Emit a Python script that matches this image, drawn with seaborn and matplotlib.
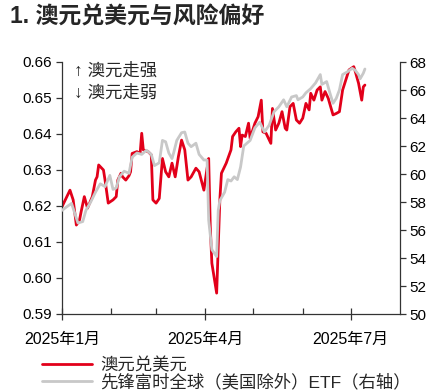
import matplotlib
matplotlib.use("Agg")
import matplotlib.pyplot as plt
import seaborn as sns
import pandas as pd
from matplotlib.lines import Line2D

sns.set_style("white")
plt.rcParams['font.family'] = ['Liberation Sans', 'Noto Sans CJK SC', 'DejaVu Sans']

# ---------------- data ----------------
aud_dates = ["2025-01-01", "2025-01-06", "2025-01-08", "2025-01-10", "2025-01-12", "2025-01-13",
             "2025-01-15", "2025-01-17", "2025-01-20", "2025-01-22", "2025-01-23", "2025-01-24",
             "2025-01-27", "2025-01-28", "2025-01-30", "2025-02-02", "2025-02-04", "2025-02-05",
             "2025-02-07", "2025-02-08", "2025-02-10", "2025-02-12", "2025-02-13", "2025-02-14",
             "2025-02-17", "2025-02-19", "2025-02-20", "2025-02-21", "2025-02-24", "2025-02-26",
             "2025-02-27", "2025-03-01", "2025-03-03", "2025-03-05", "2025-03-07", "2025-03-09",
             "2025-03-11", "2025-03-13", "2025-03-15", "2025-03-17", "2025-03-19", "2025-03-21",
             "2025-03-23", "2025-03-26", "2025-03-28", "2025-03-31", "2025-04-02", "2025-04-03",
             "2025-04-04", "2025-04-05", "2025-04-08", "2025-04-10", "2025-04-11", "2025-04-14",
             "2025-04-17", "2025-04-18", "2025-04-20", "2025-04-22", "2025-04-23", "2025-04-24",
             "2025-04-26", "2025-04-28", "2025-04-29", "2025-05-02", "2025-05-04", "2025-05-06",
             "2025-05-07", "2025-05-09", "2025-05-12", "2025-05-13", "2025-05-15", "2025-05-17",
             "2025-05-19", "2025-05-21", "2025-05-22", "2025-05-24", "2025-05-26", "2025-05-28",
             "2025-05-30", "2025-06-01", "2025-06-03", "2025-06-05", "2025-06-06", "2025-06-08",
             "2025-06-10", "2025-06-12", "2025-06-13", "2025-06-15", "2025-06-17", "2025-06-20",
             "2025-06-22", "2025-06-24", "2025-06-26", "2025-06-28", "2025-06-30", "2025-07-03",
             "2025-07-04", "2025-07-06", "2025-07-08", "2025-07-09", "2025-07-10"]
aud_values = [0.6198, 0.6244, 0.6217, 0.6147, 0.6161, 0.6184,
              0.6226, 0.6194, 0.6226, 0.6272, 0.6281, 0.6314,
              0.6300, 0.6272, 0.6208, 0.6217, 0.6226, 0.6272,
              0.6291, 0.6281, 0.6272, 0.6284, 0.6295, 0.6346,
              0.6351, 0.6346, 0.6402, 0.6356, 0.6351, 0.6342,
              0.6217, 0.6208, 0.6221, 0.6332, 0.6295, 0.6281,
              0.6319, 0.6281, 0.6337, 0.6383, 0.6356, 0.6272,
              0.6281, 0.6305, 0.6295, 0.6244, 0.6305, 0.6332,
              0.6143, 0.6041, 0.5958, 0.6217, 0.6291, 0.6319,
              0.6356, 0.6393, 0.6406, 0.6416, 0.6365, 0.6397,
              0.6393, 0.6430, 0.6388, 0.6430, 0.6448, 0.6494,
              0.6406, 0.6402, 0.6374, 0.6471, 0.6411, 0.6430,
              0.6462, 0.6416, 0.6411, 0.6476, 0.6485, 0.6439,
              0.6430, 0.6444, 0.6485, 0.6467, 0.6513, 0.6494,
              0.6522, 0.6531, 0.6494, 0.6518, 0.6499, 0.6453,
              0.6457, 0.6462, 0.6522, 0.6550, 0.6578, 0.6587,
              0.6573, 0.6541, 0.6494, 0.6531, 0.6536]

etf_dates = ["2025-01-01", "2025-01-04", "2025-01-07", "2025-01-09", "2025-01-11", "2025-01-14",
             "2025-01-16", "2025-01-19", "2025-01-22", "2025-01-25", "2025-01-28", "2025-01-31",
             "2025-02-02", "2025-02-04", "2025-02-06", "2025-02-09", "2025-02-12", "2025-02-14",
             "2025-02-17", "2025-02-20", "2025-02-23", "2025-02-26", "2025-02-28", "2025-03-03",
             "2025-03-05", "2025-03-07", "2025-03-09", "2025-03-11", "2025-03-12", "2025-03-14",
             "2025-03-17", "2025-03-19", "2025-03-21", "2025-03-23", "2025-03-26", "2025-03-28",
             "2025-03-31", "2025-04-02", "2025-04-03", "2025-04-05", "2025-04-08", "2025-04-09",
             "2025-04-10", "2025-04-13", "2025-04-15", "2025-04-17", "2025-04-19", "2025-04-21",
             "2025-04-23", "2025-04-25", "2025-04-26", "2025-04-29", "2025-05-02", "2025-05-05",
             "2025-05-08", "2025-05-11", "2025-05-14", "2025-05-17", "2025-05-20", "2025-05-22",
             "2025-05-25", "2025-05-28", "2025-05-29", "2025-06-01", "2025-06-03", "2025-06-06",
             "2025-06-09", "2025-06-12", "2025-06-13", "2025-06-16", "2025-06-18", "2025-06-20",
             "2025-06-22", "2025-06-24", "2025-06-26", "2025-06-29", "2025-07-02", "2025-07-04",
             "2025-07-06", "2025-07-07", "2025-07-09", "2025-07-10"]
etf_values = [57.4, 57.66, 57.9, 57.2, 56.5, 56.6,
              57.4, 58.0, 58.7, 59.3, 59.1, 59.9,
              58.9, 59.0, 59.8, 60.2, 60.05, 61.2,
              61.5, 61.4, 61.7, 61.4, 60.6, 60.8,
              62.4, 62.3, 61.5, 61.1, 61.5, 62.4,
              62.95, 63.0, 62.2, 61.95, 62.2, 61.4,
              61.0, 61.0, 56.7, 54.6, 54.1, 57.4,
              58.1, 58.7, 59.6, 59.5, 59.8, 59.6,
              60.5, 62.0, 62.1, 62.4, 63.3, 63.7,
              63.0, 63.5, 64.45, 64.8, 65.3, 64.8,
              65.5, 65.6, 65.3, 65.5, 65.8, 66.1,
              66.5, 67.1, 66.4, 66.6, 65.8, 65.05,
              65.4, 66.0, 67.1, 67.3, 67.55, 67.4,
              67.1, 66.8, 67.2, 67.5]

title = "1. 澳元兑美元与风险偏好"
series_names = ["澳元兑美元", "先锋富时全球（美国除外）ETF（右轴）"]
note_up = "↑ 澳元走强"
note_down = "↓ 澳元走弱"
left_ticks = [0.59, 0.60, 0.61, 0.62, 0.63, 0.64, 0.65, 0.66]
right_ticks = [50, 52, 54, 56, 58, 60, 62, 64, 66, 68]
major_months = ["2025-01-01", "2025-04-01", "2025-07-01"]
major_labels = ["2025年1月", "2025年4月", "2025年7月"]
minor_months = ["2025-02-01", "2025-03-01", "2025-05-01", "2025-06-01"]
x_range = ["2025-01-01", "2025-08-01"]

red = "#E2001A"
grey = "#C8C8C8"

aud = pd.DataFrame({"date": pd.to_datetime(aud_dates), "value": aud_values})
etf = pd.DataFrame({"date": pd.to_datetime(etf_dates), "value": etf_values})

fig = plt.figure(figsize=(4.37, 3.91), dpi=100)
ax = fig.add_axes([62/437, 1-314/391, (400-62)/437, (314-62)/391])
ax2 = ax.twinx()

sns.lineplot(data=aud, x="date", y="value", ax=ax, color=red, linewidth=2.0)
sns.lineplot(data=etf, x="date", y="value", ax=ax2, color=grey, linewidth=2.0)

ax.set_xlim(pd.to_datetime(x_range[0]), pd.to_datetime(x_range[1]))
ax.set_ylim(0.59, 0.66)
ax2.set_ylim(50, 68)
ax.set_yticks(left_ticks)
ax.set_yticklabels([f"{v:.2f}" for v in left_ticks])
ax2.set_yticks(right_ticks)
ax.set_xticks(pd.to_datetime(major_months))
ax.set_xticklabels(major_labels)
ax.set_xticks(pd.to_datetime(minor_months), minor=True)
ax.set_xlabel("")
ax.set_ylabel("")
ax2.set_ylabel("")

for a in (ax, ax2):
    for s in a.spines.values():
        s.set_color("#333333")
        s.set_linewidth(0.9)
    a.spines["top"].set_visible(False)
ax.spines["right"].set_visible(False)
ax2.spines["left"].set_visible(False)
ax2.spines["bottom"].set_visible(False)

ax.tick_params(axis="y", direction="out", length=4, width=0.9, color="#333333",
               labelsize=11, labelcolor="black", pad=3, left=True)
ax2.tick_params(axis="y", direction="out", length=4, width=0.9, color="#333333",
                labelsize=11, labelcolor="black", pad=3, right=True)
ax.tick_params(axis="x", which="major", direction="inout", length=8, width=0.9,
               color="#333333", labelsize=11.5, labelcolor="black", pad=9, bottom=True)
ax.tick_params(axis="x", which="minor", direction="in", length=4, width=0.9,
               color="#333333", bottom=True)

fig.text(74/437, 1-71/391, note_up, fontsize=12.5, va="center", ha="left")
fig.text(74/437, 1-93/391, note_down, fontsize=12.5, va="center", ha="left")

fig.text(10/437, 1-17/391, title, fontsize=16.5, fontweight="bold", va="center", ha="left")

handles = [Line2D([], [], color=red, linewidth=2.0), Line2D([], [], color=grey, linewidth=2.0)]
fig.legend(handles, series_names, loc="upper left", bbox_to_anchor=(42/437, 1-357/391),
           frameon=False, fontsize=12.5, handlelength=2.9, handletextpad=0.45,
           labelspacing=0.0, borderaxespad=0, borderpad=0)

fig.savefig("out.png", dpi=100)
